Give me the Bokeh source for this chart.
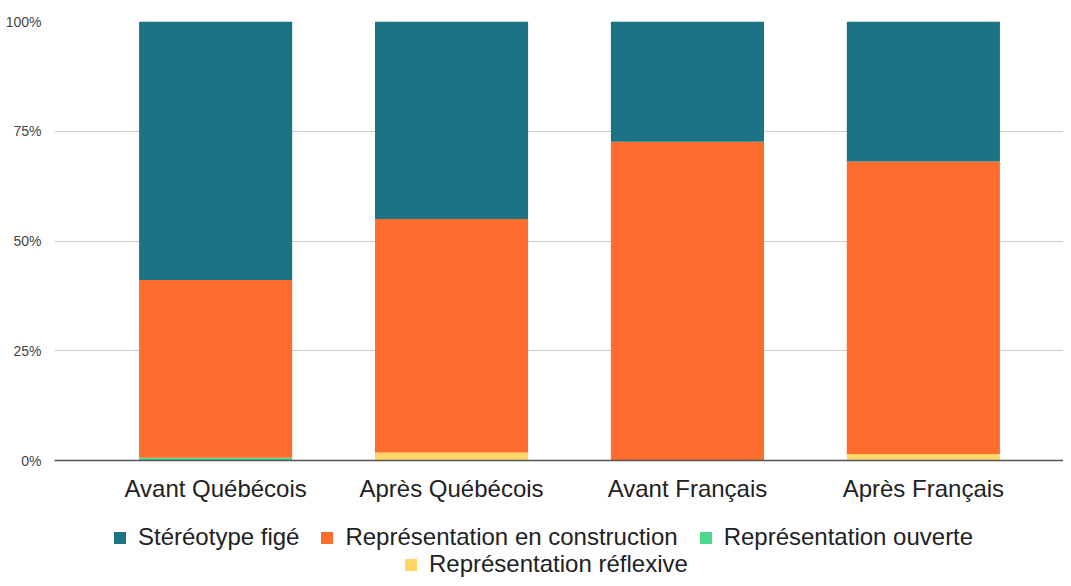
from bokeh.plotting import figure
from bokeh.layouts import column
from bokeh.models import (Range1d, FixedTicker, NumeralTickFormatter, Legend, LegendItem,
                          ColumnDataSource)
from bokeh.embed import file_html
from bokeh.resources import INLINE

categories = ["Avant Québécois", "Après Québécois", "Avant Français", "Après Français"]
stereotype = [58.9, 45.0, 27.4, 31.9]
construction = [40.5, 53.2, 72.6, 66.6]
ouverte = [0.6, 0.0, 0.0, 0.0]
reflexive = [0.0, 1.8, 0.0, 1.5]
y_ticks = [0, 0.25, 0.5, 0.75, 1.0]

series_names = ["Stéréotype figé", "Représentation en construction",
                "Représentation ouverte", "Représentation réflexive"]
colors = ["#1b7383", "#ff6d2e", "#4ad98a", "#ffd666"]

FONT = "Liberation Sans"
W = 1063

xs = list(range(len(categories)))
src = ColumnDataSource(dict(
    x=xs,
    reflexive=[v / 100 for v in reflexive],
    ouverte=[v / 100 for v in ouverte],
    construction=[v / 100 for v in construction],
    stereotype=[v / 100 for v in stereotype],
))

p = figure(width=W, height=512, output_backend="svg", toolbar_location=None,
           x_range=Range1d(-0.683, 3.594), y_range=Range1d(0, 1))
p.min_border_left = 54
p.min_border_right = 0
p.min_border_top = 21
p.min_border_bottom = 52
p.outline_line_color = None

stack_keys = ["reflexive", "ouverte", "construction", "stereotype"]
stack_colors = [colors[3], colors[2], colors[1], colors[0]]
p.vbar_stack(stack_keys, x="x", width=0.649, source=src,
             color=stack_colors, line_color=None)

p.yaxis.ticker = FixedTicker(ticks=y_ticks)
p.yaxis.formatter = NumeralTickFormatter(format="0%")
p.yaxis.axis_line_color = None
p.yaxis.major_tick_line_color = None
p.yaxis.minor_tick_line_color = None
p.yaxis.major_label_standoff = 7
p.yaxis.major_label_text_font = FONT
p.yaxis.major_label_text_font_size = "14px"
p.yaxis.major_label_text_color = "#444444"

p.xaxis.ticker = FixedTicker(ticks=xs)
p.xaxis.major_label_overrides = {i: c for i, c in enumerate(categories)}
p.xaxis.axis_line_color = "#555555"
p.xaxis.axis_line_width = 1.5
p.xaxis.major_tick_line_color = None
p.xaxis.minor_tick_line_color = None
p.xaxis.major_label_standoff = 8
p.xaxis.major_label_text_font = FONT
p.xaxis.major_label_text_font_size = "24px"
p.xaxis.major_label_text_color = "#222222"

p.xgrid.grid_line_color = None
p.ygrid.ticker = FixedTicker(ticks=y_ticks)
p.ygrid.grid_line_color = "#cccccc"
p.ygrid.grid_line_width = 1

# legend panel (separate figure below the chart; its frame is aligned with the chart's)
LH = 66
q = figure(width=W, height=LH, output_backend="svg", toolbar_location=None,
           x_range=Range1d(0, 1), y_range=Range1d(0, 1),
           x_axis_location=None, y_axis_location=None)
q.min_border_left = 0
q.min_border_right = 0
q.min_border_top = 0
q.min_border_bottom = 0
q.outline_line_color = None
q.xgrid.grid_line_color = None
q.ygrid.grid_line_color = None

# off-screen proxies that only supply the legend swatches
dummies = [q.vbar(x=[-10], top=[0], width=0.5, color=c, line_color=None) for c in colors]

def make_legend(items, loc):
    lg = Legend(items=items, location=loc, orientation="horizontal")
    lg.padding = 0
    lg.margin = 0
    lg.spacing = 20
    lg.border_line_color = None
    lg.background_fill_alpha = 0
    lg.glyph_width = 15
    lg.glyph_height = 15
    lg.label_standoff = 11
    lg.label_height = 20
    lg.label_text_font = FONT
    lg.label_text_font_size = "24px"
    lg.label_text_color = "#222222"
    lg.label_text_baseline = "middle"
    return lg

items1 = [LegendItem(label=series_names[i], renderers=[dummies[i]]) for i in range(3)]
items2 = [LegendItem(label=series_names[3], renderers=[dummies[3]])]

q.add_layout(make_legend(items1, (58, 27)), "center")
q.add_layout(make_legend(items2, (349, 0)), "center")

layout = column(p, q, spacing=0)
open("out.html", "w").write(file_html(layout, INLINE))
